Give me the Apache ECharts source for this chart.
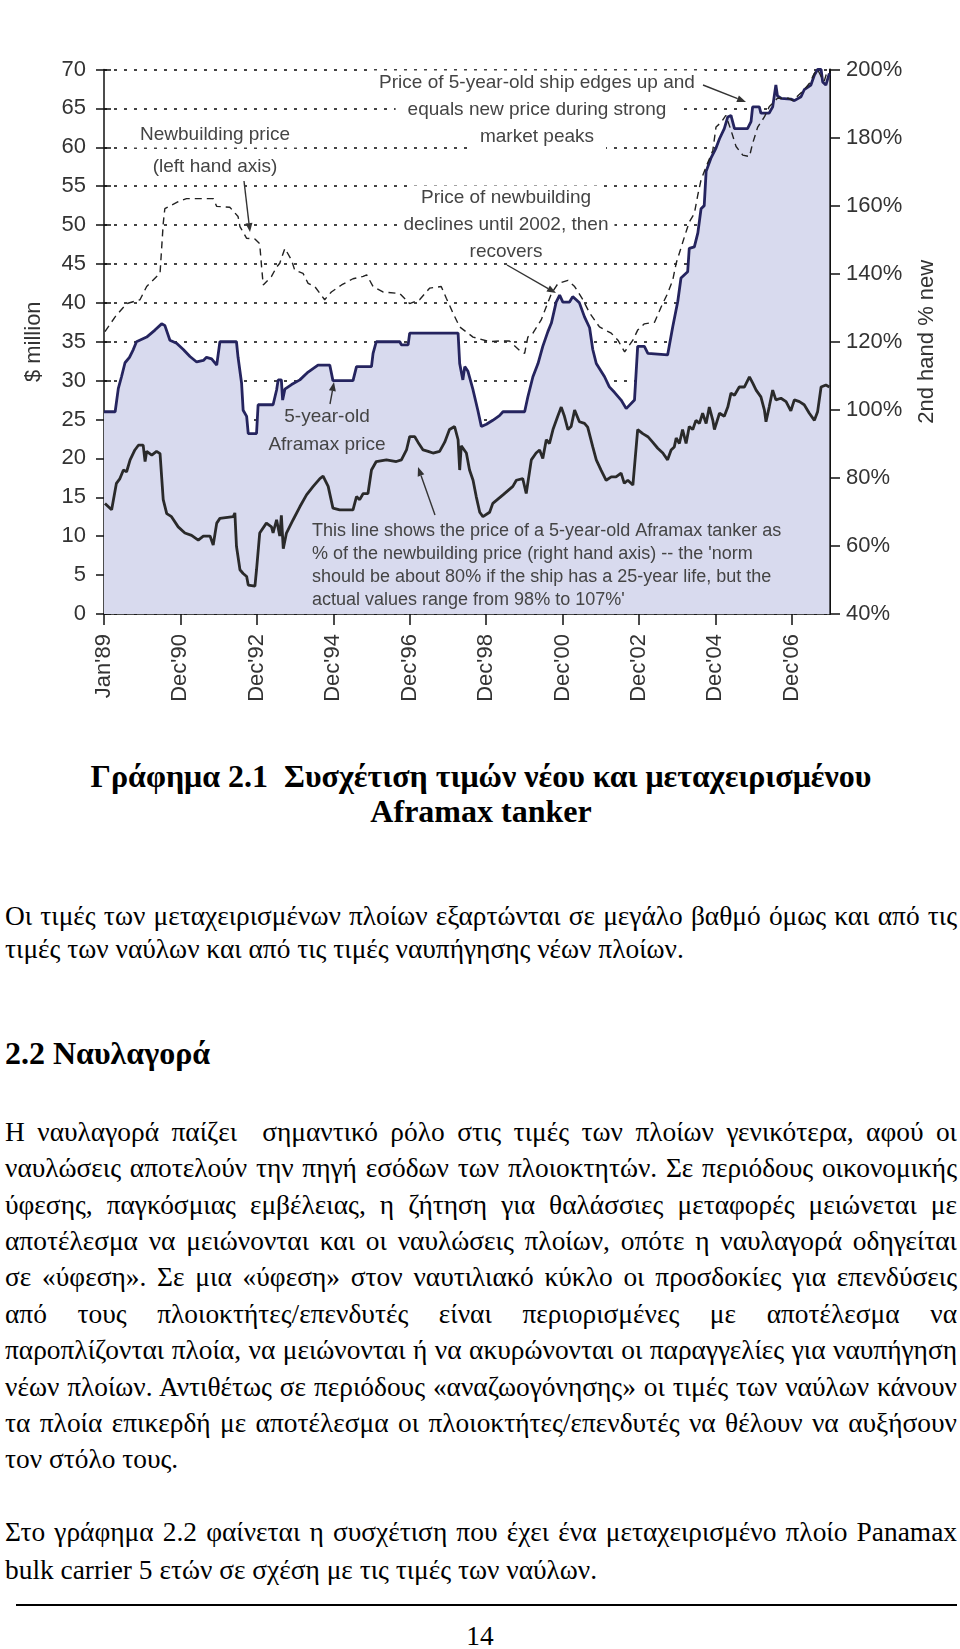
<!DOCTYPE html>
<html>
<head>
<meta charset="utf-8">
<script src="https://cdn.jsdelivr.net/npm/echarts@6/dist/echarts.min.js"></script>
<style>
  html, body { margin: 0; padding: 0; background: #fff; }
  body { width: 960px; height: 1649px; position: relative; overflow: hidden; }
  #chart { position: absolute; left: 0; top: 0; width: 960px; height: 720px; }
  .ln { position: absolute; font-family: 'Liberation Serif', 'Times New Roman', serif; color: #000; }
  .ln span { display: inline-block; white-space: pre; transform-origin: 0 50%; }
  .b { font-weight: bold; }
  #rule { position: absolute; left: 16px; width: 941px; top: 1604px; height: 2px; background: #000; }
</style>
</head>
<body>
<div id="chart"></div>
<div id="text"></div>
<div id="rule"></div>
<script>
// ---------- DATA (months from Jan'89) ----------
const tickMonths = [0, 24, 48, 72, 96, 120, 144, 168, 192, 216];
const tickLabels = ["Jan'89", "Dec'90", "Dec'92", "Dec'94", "Dec'96", "Dec'98", "Dec'00", "Dec'02", "Dec'04", "Dec'06"];

// 5-year-old Aframax price, $ million (left axis)
const fiveYearOld = [[0,26],[3.5,26],[4.5,29],[5.5,30.5],[6.6,32.3],[8,33],[9.2,34],[10.2,35],[13.4,35.6],[16,36.5],[18.1,37.3],[19.1,37.1],[20.7,35.2],[22.8,34.8],[24.9,34],[27,33.1],[29.1,32.4],[31.2,32.6],[32.2,33],[33.8,32.8],[35.4,32],[36.4,35],[41.6,35],[42.1,33],[43.2,29.7],[43.7,26.2],[44.8,25.4],[45.3,23.2],[47.9,23.2],[48.4,26.9],[53.1,26.9],[54.2,28.8],[54.7,30.1],[55.7,30.1],[56.1,27.5],[56.8,28.9],[58.9,29.5],[61.5,30.1],[64.1,31.1],[67.2,32],[70.9,32],[71.9,30],[78.2,30],[79.3,31.8],[84,31.8],[84.5,33.5],[85.5,35],[92.9,35],[93.4,34.6],[95.5,34.6],[96,36.1],[111.2,36.1],[111.7,32.2],[112.7,30.1],[113.3,31.8],[114.3,31.2],[115.9,28.8],[117.4,26.2],[118.5,24.1],[120.1,24.4],[122.1,24.9],[124.2,25.5],[125.3,26],[132.1,26],[133.1,27.9],[134.7,30.5],[136.3,32.2],[137.8,34.4],[139.4,36.3],[140.5,37.4],[142,40.1],[143.1,41],[144.1,40.1],[146.2,40.1],[147.2,40.8],[148.3,40.4],[149.3,40],[150.9,38.2],[152.5,36.8],[153.5,34],[154.6,32.2],[157.2,30.5],[158.7,29.2],[160.3,28.5],[162.4,27.5],[164,26.4],[166.6,27.5],[167.6,34.4],[169.7,34.4],[170.8,33.5],[177,33.3],[178.6,36.9],[180.2,40.2],[181.2,43.2],[183.3,44],[183.8,47],[185.4,47.2],[186.5,49],[187.5,52.1],[188.5,52.5],[189.1,56.9],[190.6,58.6],[192.2,59.9],[193.3,61.1],[194.8,62.4],[195.9,63.9],[196.9,64.1],[198,62.4],[202.1,62.4],[203.2,63.3],[203.7,65.2],[205.8,65.2],[206.3,64.4],[208.9,64.4],[210,65.2],[211,68],[211.5,66.6],[212.6,66.3],[215.7,66.2],[216.8,66],[218.9,66.5],[219.9,67.4],[222,68],[223.1,69.3],[224.1,70],[225.2,70],[225.7,68.4],[226.7,68],[227.8,69.5]];

// Newbuilding price, $ million (left axis)
const newbuilding = [[0.3,36.3],[3.5,38.2],[7.1,39.9],[11.3,40.4],[13.4,42.1],[17.6,43.8],[18.6,50.2],[19.1,52.1],[23.3,53],[25.9,53.4],[34.3,53.4],[35.4,52.4],[39.5,52.3],[42.1,51.1],[42.7,49.8],[44.8,48.3],[47.4,48.2],[48.9,47.6],[49.5,44.6],[50,42.3],[52.6,43.4],[54.2,44.6],[55.2,45.1],[56.8,47],[58.9,45.5],[59.9,44.2],[62.5,43.8],[64.1,42.5],[66.2,42.1],[69.3,40.4],[71.4,41.4],[74.6,42.3],[78.2,43.1],[81.4,43.4],[82.5,43.6],[84.5,42.1],[87.6,41.4],[92.9,41.2],[96,39.9],[99.1,40.4],[102.3,41.9],[105.9,42.1],[107.5,40.6],[109.6,38.7],[111.7,36.9],[115.9,35.6],[121.1,35],[124.2,35.1],[127.3,35.1],[130.5,33.9],[132.1,33.5],[133.1,35.6],[134.7,36.1],[137.3,37.8],[140.5,41.2],[142.6,42.5],[145.7,42.9],[147.8,42.1],[150.4,40.4],[152.5,38.7],[155.6,36.9],[159.3,36.1],[161.4,35.2],[163.5,33.7],[166.1,35.2],[167.6,36.5],[169.7,37.3],[172.9,37.5],[175,39.5],[177,41.2],[178.6,42.9],[179.7,45.1],[180.7,46.4],[182.3,48.5],[183.8,50.4],[185.4,51.5],[186.5,53.9],[187.5,55.8],[189.1,57.5],[191.2,59.6],[192.2,62.6],[193.8,63.2],[195.3,64.1],[196.9,62.2],[198.5,60.1],[200.6,59],[202.7,58.8],[203.7,60.5],[205.3,62.6],[207.4,63.9],[208.9,65.2],[211.5,66.3],[215,66.3],[216.3,66],[219.9,67.4],[221.5,68.2],[223.1,69.5],[224.1,70],[225.2,69.1],[226.2,68.5],[227.2,69.9]];

// 5-year-old price as % of newbuilding price (right axis)
const ratioPct = [[0.3,72.5],[2.4,70.6],[3.9,78.4],[5,79.8],[6.1,82.3],[7.1,81.8],[8.2,85.3],[9.7,88.2],[10.8,89.6],[12.3,89.6],[12.9,84.8],[13.4,87.8],[15,86.7],[16.5,87.8],[17.6,87.1],[18.6,73.6],[19.7,69.5],[21.2,68.6],[23.3,65.6],[25.4,63.8],[27.5,63.1],[29.6,61.7],[31.2,62.9],[33.3,62.9],[34.3,60.3],[35.4,66.7],[36.4,68.1],[40.6,68.6],[41.1,69.7],[41.6,59.9],[42.7,53],[43.7,51.9],[44.8,51],[45.3,48.5],[47.4,48.2],[47.9,53],[48.9,63.8],[51,66.7],[52.6,65.6],[53.1,63.8],[54.2,67.7],[55.2,62.9],[55.7,69],[56.3,59.2],[57.3,63.8],[59.4,67.7],[61.5,71.5],[63.6,75],[65.7,77.5],[67.8,79.8],[68.8,80.5],[70.4,77.5],[71.9,71.1],[74,70.6],[78.2,70.6],[79.3,74.5],[80.3,73.6],[81.4,75.4],[82.9,75.4],[84,82.3],[85.5,84.8],[88.7,85.3],[91.8,84.8],[93.4,85.3],[95,88.2],[96,92.1],[97.6,92.1],[98.6,90.5],[100.2,88.2],[101.8,87.8],[103.3,87.3],[105.4,87.8],[107,90.5],[108.5,94.2],[110.1,95.1],[111.2,91.2],[111.7,82.3],[112.2,89.4],[113.8,87.3],[114.8,82.3],[115.9,79.3],[116.9,74.5],[118,69.9],[119,68.6],[121.1,69.9],[122.1,72.5],[125.3,75],[128.4,77.5],[129.5,79.3],[131.5,79.8],[132.6,75.4],[134.2,85.3],[135.7,87.3],[136.8,88.2],[137.8,85.7],[138.9,91.2],[139.9,90.1],[141,94.2],[142.5,98.1],[143.6,100.8],[144.6,98.1],[145.7,94.2],[146.7,95.1],[147.8,99.9],[149.3,96.5],[150.9,96],[151.9,94.9],[153.5,89.1],[154.6,85.3],[156.1,82.3],[157.7,79.3],[159.3,80.3],[160.8,80.3],[162.4,81.4],[163.4,78.4],[164.5,79.3],[166.1,77.9],[167.6,94.2],[169.2,93],[170.8,92.1],[172.3,90.5],[173.9,88.7],[175.5,87.3],[177,85.3],[178.1,88.2],[179.1,89.1],[179.7,91.7],[180.7,90.1],[181.7,94.2],[182.8,90.1],[183.8,95.1],[184.9,94.2],[185.9,96.9],[187,96],[188,99],[189.1,96],[190.1,100.8],[191.2,96.9],[191.7,94.2],[193.3,99],[194.8,98.1],[195.9,100.8],[196.9,104.9],[198,104.3],[199.5,106.7],[201.1,106.7],[202.7,109.7],[203.7,107.9],[204.8,105.8],[206.3,103.8],[207.4,99.9],[207.9,96.5],[208.9,100.8],[210,105.8],[211,102.9],[212.6,103.4],[214.2,102.4],[215.7,99.7],[216.8,102.9],[218.4,102.4],[219.9,101.5],[221.5,99],[223.1,96.9],[224.1,99.4],[225.2,106.7],[226.7,107.3],[227.8,106.7]];

// ---------- CHART ----------
const chart = echarts.init(document.getElementById('chart'), null, { renderer: 'canvas' });
const SANS = "'Liberation Sans', Arial, Helvetica, sans-serif";
const annColor = '#444';
const annFont = '19px ' + SANS;
const noteFont = '18px ' + SANS;

function txt(s, x, y, opts) {
  opts = opts || {};
  return {
    type: 'text', z: 100,
    style: {
      text: s, x: x, y: y,
      font: opts.font || annFont, fill: annColor,
      align: opts.align || 'center', verticalAlign: 'middle',
      backgroundColor: opts.bg || null,
      padding: opts.pad || [0, 0]
    }
  };
}
function arrow(x1, y1, x2, y2) {
  const a = Math.atan2(y2 - y1, x2 - x1), L = 9, W = 3.5;
  const bx = x2 - L * Math.cos(a), by = y2 - L * Math.sin(a);
  const px = -Math.sin(a) * W, py = Math.cos(a) * W;
  return [
    { type: 'line', z: 100, shape: { x1: x1, y1: y1, x2: bx, y2: by }, style: { stroke: '#333', lineWidth: 1.4 } },
    { type: 'polygon', z: 100, shape: { points: [[x2, y2], [bx + px, by + py], [bx - px, by - py]] }, style: { fill: '#333' } }
  ];
}

const graphics = [
  txt('Newbuilding price', 215, 135, { bg: '#fff', pad: [3, 12] }),
  txt('(left hand axis)', 215, 167),
  ...arrow(244, 181, 250, 232),
  txt('Price of 5-year-old ship edges up and', 537, 83, { bg: '#fff', pad: [3, 10] }),
  txt('equals new price during strong', 537, 110, { bg: '#fff', pad: [3, 12] }),
  txt('market peaks', 537, 137, { bg: '#fff', pad: [3, 12] }),
  ...arrow(703, 85, 746, 102),
  txt('Price of newbuilding', 506, 198, { bg: '#fff', pad: [3, 10] }),
  txt('declines until 2002, then', 506, 225, { bg: '#fff', pad: [3, 6] }),
  txt('recovers', 506, 252),
  ...arrow(507, 265, 556, 293),
  txt('5-year-old', 327, 417),
  txt('Aframax price', 327, 445),
  ...arrow(330, 404, 334, 382),
  txt('This line shows the price of a 5-year-old Aframax tanker as', 312, 531, { align: 'left', font: noteFont }),
  txt("% of the newbuilding price (right hand axis) -- the 'norm", 312, 554, { align: 'left', font: noteFont }),
  txt('should be about 80% if the ship has a 25-year life, but the', 312, 577, { align: 'left', font: noteFont }),
  txt("actual values range from 98% to 107%'", 312, 600, { align: 'left', font: noteFont }),
  ...arrow(435, 515, 418, 467)
];

chart.setOption({
  animation: false,
  backgroundColor: '#fff',
  textStyle: { fontFamily: SANS },
  grid: { left: 104, right: 130, top: 69.5, bottom: 106, containLabel: false },
  xAxis: {
    type: 'value', min: 0, max: 228,
    axisLine: { show: true, lineStyle: { color: '#111', width: 1.5 } },
    axisTick: { show: true, length: 11, customValues: tickMonths, lineStyle: { color: '#111', width: 1.5 } },
    axisLabel: {
      customValues: tickMonths, rotate: 90, margin: 20, fontSize: 22, color: '#333', fontFamily: SANS,
      formatter: function (v) { const i = tickMonths.indexOf(v); return i >= 0 ? tickLabels[i] : ''; }
    },
    splitLine: { show: false }
  },
  yAxis: [
    {
      type: 'value', min: 0, max: 70, interval: 5, position: 'left',
      name: '$ million', nameLocation: 'middle', nameGap: 59,
      nameTextStyle: { fontSize: 22, color: '#333', fontFamily: SANS },
      axisLine: { show: true, lineStyle: { color: '#111', width: 1.5 } },
      axisTick: { show: true, length: 8, lineStyle: { color: '#111', width: 1.5 } },
      axisLabel: { fontSize: 22, color: '#333', margin: 18, fontFamily: SANS },
      splitLine: { show: true, lineStyle: { color: '#444', width: 2, type: [3, 7] } }
    },
    {
      type: 'value', min: 40, max: 200, interval: 20, position: 'right',
      name: '2nd hand % new', nameLocation: 'middle', nameGap: 86,
      nameTextStyle: { fontSize: 22, color: '#333', fontFamily: SANS },
      axisLine: { show: true, lineStyle: { color: '#111', width: 2 } },
      axisTick: { show: true, length: 10, lineStyle: { color: '#111', width: 1.5 } },
      axisLabel: { fontSize: 22, color: '#333', margin: 16, fontFamily: SANS, formatter: '{value}%' },
      splitLine: { show: false }
    },
    {
      // inner half of the crossing ticks on the left axis
      type: 'value', min: 0, max: 70, interval: 5, position: 'left',
      axisLine: { show: false },
      axisTick: { show: true, inside: true, length: 7, lineStyle: { color: '#111', width: 1.5 } },
      axisLabel: { show: false },
      splitLine: { show: false }
    }
  ],
  series: [
    {
      name: '5-year-old Aframax price', type: 'line', yAxisIndex: 0, data: fiveYearOld,
      symbol: 'none', z: 2,
      lineStyle: { color: '#25245f', width: 2.8 },
      areaStyle: { color: '#d8daee', opacity: 1 }
    },
    {
      name: 'Newbuilding price', type: 'line', yAxisIndex: 0, data: newbuilding,
      symbol: 'none', z: 3,
      lineStyle: { color: '#222', width: 1.4, type: [7, 5] }
    },
    {
      name: '2nd hand % new', type: 'line', yAxisIndex: 1, data: ratioPct,
      symbol: 'none', z: 4,
      lineStyle: { color: '#2a2a2a', width: 2.8 }
    }
  ],
  graphic: graphics
});

// ---------- PAGE TEXT ----------
const captionLines = ['Γράφημα 2.1  Συσχέτιση τιμών νέου και μεταχειρισμένου', 'Aframax tanker'];
const para1 = ['Οι τιμές των μεταχειρισμένων πλοίων εξαρτώνται σε μεγάλο βαθμό όμως και από τις',
  'τιμές των ναύλων και από τις τιμές ναυπήγησης νέων πλοίων.'];
const heading = '2.2 Ναυλαγορά';
const para2 = ['Η ναυλαγορά παίζει  σημαντικό ρόλο στις τιμές των πλοίων γενικότερα, αφού οι',
  'ναυλώσεις αποτελούν την πηγή εσόδων των πλοιοκτητών. Σε περιόδους οικονομικής',
  'ύφεσης, παγκόσμιας εμβέλειας, η ζήτηση για θαλάσσιες μεταφορές μειώνεται με',
  'αποτέλεσμα να μειώνονται και οι ναυλώσεις πλοίων, οπότε η ναυλαγορά οδηγείται',
  'σε «ύφεση». Σε μια «ύφεση» στον ναυτιλιακό κύκλο οι προσδοκίες για επενδύσεις',
  'από τους πλοιοκτήτες/επενδυτές είναι περιορισμένες με αποτέλεσμα να',
  'παροπλίζονται πλοία, να μειώνονται ή να ακυρώνονται οι παραγγελίες για ναυπήγηση',
  'νέων πλοίων. Αντιθέτως σε περιόδους «αναζωογόνησης» οι τιμές των ναύλων κάνουν',
  'τα πλοία επικερδή με αποτέλεσμα οι πλοιοκτήτες/επενδυτές να θέλουν να αυξήσουν',
  'τον στόλο τους.'];
const para3 = ['Στο γράφημα 2.2 φαίνεται η συσχέτιση που έχει ένα μεταχειρισμένο πλοίο Panamax',
  'bulk carrier 5 ετών σε σχέση με τις τιμές των ναύλων.'];
const pageNum = '14';

const holder = document.getElementById('text');
const BODY = 27.4, BOLD = 32, LH = 40, TEXT_W = 952;
function line(s, cy, o) {
  const d = document.createElement('div');
  const sp = document.createElement('span');
  const fs = o.fs || BODY;
  d.className = 'ln' + (o.bold ? ' b' : '');
  sp.textContent = s;
  d.appendChild(sp);
  d.style.fontSize = fs + 'px';
  d.style.lineHeight = LH + 'px';
  d.style.top = (cy - LH / 2 - 0.08 * fs) + 'px';
  if (o.center) { d.style.left = (o.cx - 480) + 'px'; d.style.width = '960px'; d.style.textAlign = 'center'; }
  else { d.style.left = '5px'; d.style.width = TEXT_W + 'px'; }
  holder.appendChild(d);
  const w = sp.getBoundingClientRect().width;
  const nSp = (s.match(/ /g) || []).length;
  if (o.just && w < TEXT_W && nSp > 0) {
    sp.style.wordSpacing = ((TEXT_W - w) / nSp) + 'px';
  } else if (w > TEXT_W) {
    sp.style.transform = 'scaleX(' + (TEXT_W / w) + ')';
  }
}
line(captionLines[0], 779, { bold: true, center: true, cx: 481, fs: BOLD });
line(captionLines[1], 814, { bold: true, center: true, cx: 481, fs: BOLD });
line(para1[0], 918, { just: true });
line(para1[1], 951, {});
line(heading, 1056, { bold: true, fs: BOLD });
para2.forEach(function (s, i) { line(s, 1134 + i * 36.4, { just: i < para2.length - 1 }); });
line(para3[0], 1534, { just: true });
line(para3[1], 1572, {});
line(pageNum, 1638, { center: true, cx: 480 });
</script>
</body>
</html>
